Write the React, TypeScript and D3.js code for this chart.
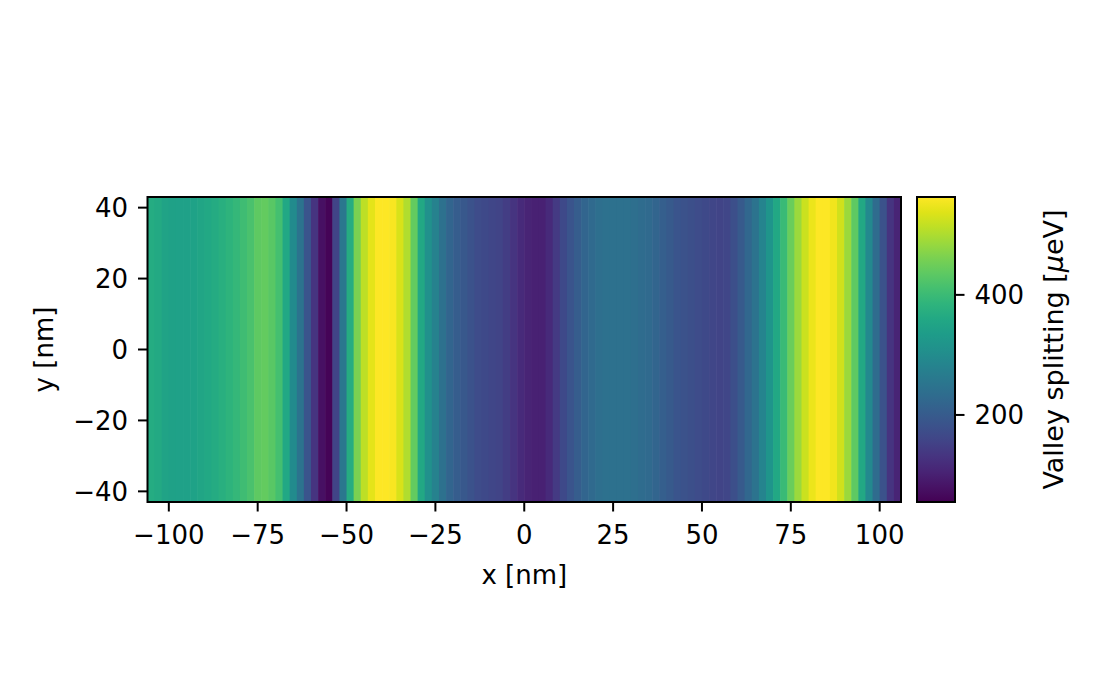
import React from "react";
import * as d3 from "d3";

// Valley splitting per x column (µeV), columns centred at -105, -103, ..., 105 nm
const columnCenters: number[] = d3.range(-105, 106, 2);
const splitting: number[] = [
  368, 362, 350, 345, 344, 344, 348, 354, 360, 366,
  375, 384, 393, 405, 418, 436, 441, 431, 411, 360,
  299, 248, 187, 131, 75, 60, 157, 258, 370, 461,
  512, 543, 563, 563, 558, 533, 502, 441, 360, 309,
  279, 243, 218, 202, 192, 182, 172, 167, 162, 157,
  146, 131, 116, 106, 101, 101, 116, 141, 167, 187,
  202, 218, 228, 238, 243, 243, 243, 243, 238, 233,
  228, 218, 207, 197, 187, 182, 177, 172, 167, 162,
  157, 162, 177, 197, 223, 248, 284, 319, 360, 400,
  446, 487, 522, 548, 563, 563, 553, 527, 487, 436,
  360, 294, 233, 182, 131, 106,
];
const xTicks = [-100, -75, -50, -25, 0, 25, 50, 75, 100];
const yTicks = [-40, -20, 0, 20, 40];
const cbTicks = [200, 400];
const cellWidth = 2;

const FONT = "DejaVu Sans, sans-serif";

export default function App() {
  const left = 147.5, right = 901, top = 197, bottom = 502;
  const x = d3.scaleLinear().domain([-106, 106]).range([left, right]);
  const y = d3.scaleLinear().domain([-43, 43]).range([bottom, top]);
  const vmin = 55, vmax = 563;
  const color = d3.scaleSequential(d3.interpolateViridis).domain([vmin, vmax]);
  const cbLeft = 917, cbRight = 955;
  const cb = d3.scaleLinear().domain([vmin, vmax]).range([bottom, top]);
  const fs = 26;
  const tl = 9.5;
  const fmt = (v: number) => (v < 0 ? "\u2212" + Math.abs(v) : String(v));
  const gradStops = d3.range(0, 1.0001, 0.05);

  return (
    <svg width={1100} height={700} style={{ display: "block", margin: "-8px" }} fontFamily={FONT}>
      <rect width={1100} height={700} fill="white" />
      <defs>
        <linearGradient id="cbg" x1="0" y1="1" x2="0" y2="0">
          {gradStops.map((t, i) => (
            <stop key={i} offset={t} stopColor={d3.interpolateViridis(t)} />
          ))}
        </linearGradient>
        <clipPath id="plotclip">
          <rect x={left} y={top} width={right - left} height={bottom - top} />
        </clipPath>
      </defs>
      <g clipPath="url(#plotclip)">
        {splitting.map((v, i) => {
          const x0 = x(columnCenters[i] - cellWidth / 2);
          const x1 = x(columnCenters[i] + cellWidth / 2);
          return (
            <rect key={i} x={x0} y={top} width={x1 - x0 + 0.6} height={bottom - top} fill={color(v)} />
          );
        })}
      </g>
      <rect x={left} y={top} width={right - left} height={bottom - top} fill="none" stroke="black" strokeWidth={2} />
      {xTicks.map((t) => (
        <g key={t}>
          <line x1={x(t)} x2={x(t)} y1={bottom} y2={bottom + tl} stroke="black" strokeWidth={2} />
          <text x={x(t)} y={544} fontSize={fs} textAnchor="middle">{fmt(t)}</text>
        </g>
      ))}
      {yTicks.map((t) => (
        <g key={t}>
          <line x1={left - tl} x2={left} y1={y(t)} y2={y(t)} stroke="black" strokeWidth={2} />
          <text x={left - tl - 10} y={y(t) + 9.5} fontSize={fs} textAnchor="end">{fmt(t)}</text>
        </g>
      ))}
      <text x={(left + right) / 2} y={584} fontSize={fs} textAnchor="middle">x [nm]</text>
      <text transform={`translate(53,${(top + bottom) / 2}) rotate(-90)`} fontSize={fs} textAnchor="middle">y [nm]</text>

      <rect x={cbLeft} y={top} width={cbRight - cbLeft} height={bottom - top} fill="url(#cbg)" />
      <rect x={cbLeft} y={top} width={cbRight - cbLeft} height={bottom - top} fill="none" stroke="black" strokeWidth={2} />
      {cbTicks.map((t) => (
        <g key={t}>
          <line x1={cbRight} x2={cbRight + tl} y1={cb(t)} y2={cb(t)} stroke="black" strokeWidth={2} />
          <text x={cbRight + tl + 10} y={cb(t) + 9.5} fontSize={fs}>{t}</text>
        </g>
      ))}
      <text transform={`translate(1063,${(top + bottom) / 2}) rotate(-90)`} fontSize={27} textAnchor="middle">
        Valley splitting [<tspan fontStyle="italic">μ</tspan>eV]
      </text>
    </svg>
  );
}
